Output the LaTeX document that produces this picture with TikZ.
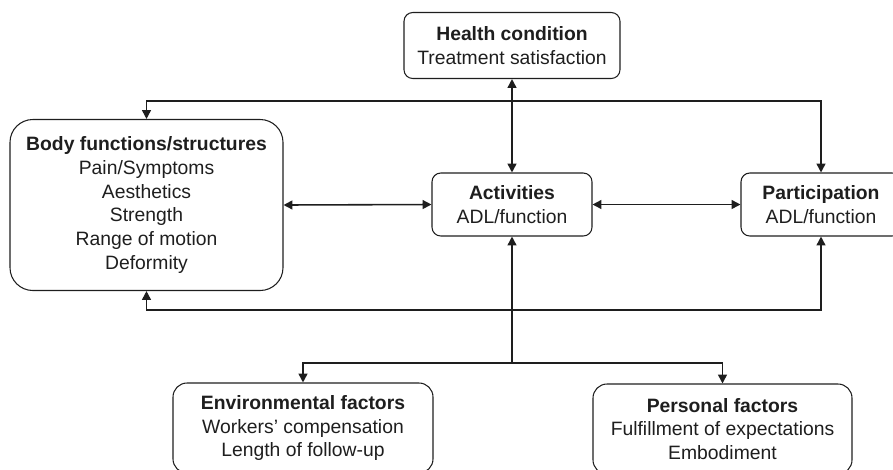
\documentclass[tikz,border=0pt]{standalone}
\usepackage{fontspec}
\setmainfont{Liberation Sans}
\usepackage{tikz}
\usetikzlibrary{positioning,arrows.meta,calc}
\definecolor{ink}{HTML}{1E1E1E}

\begin{document}
\begin{tikzpicture}[x=0.2mm,y=-0.2mm,every node/.style={font=\fontsize{11}{13.6}\selectfont,text=ink}]
    \tikzstyle{box}=[draw=ink,rounded corners=5pt,line width=0.6pt,align=center,inner sep=0pt];
    \tikzstyle{link}=[line width=0.9pt,draw=ink,-{Triangle[length=5pt,width=5pt]}];
    \tikzstyle{both}=[line width=0.9pt,draw=ink,{Triangle[length=5pt,width=5pt]}-{Triangle[length=5pt,width=5pt]}];
    \useasboundingbox (0,0) rectangle (893,469);

    \node[box,minimum width=4.32cm,minimum height=1.32cm] (hc) at (512,45.5)
        {\textbf{Health condition}\\Treatment satisfaction};
    \node[box,rounded corners=13pt,minimum width=5.46cm,minimum height=3.42cm] (bf) at (146.5,205)
        {\textbf{Body functions/structures}\\Pain/Symptoms\\Aesthetics\\Strength\\Range of motion\\Deformity};
    \node[box,minimum width=3.2cm,minimum height=1.26cm] (act) at (512,204.5)
        {\textbf{Activities}\\ADL/function};
    \node[box,minimum width=3.2cm,minimum height=1.26cm] (part) at (821,204.5)
        {\textbf{Participation}\\ADL/function};
    \node[box,rounded corners=8pt,minimum width=5.2cm,minimum height=1.8cm] (env) at (303,428)
        {\textbf{Environmental factors}\\Workers’ compensation\\Length of follow-up};
    \node[box,rounded corners=8pt,minimum width=5.18cm,minimum height=1.8cm] (pers) at (722.5,429)
        {\textbf{Personal factors}\\Fulfillment of expectations\\Embodiment};

    \coordinate (top) at (0,101);
    \coordinate (bot) at (0,310);
    \coordinate (split) at (512,363);

    \draw[both] (act.north) -- (hc.south);
    \draw[both] (bf.north) -- (bf.north |- top) -- (part.north |- top) -- (part.north);
    \draw[both] (bf.south) -- (bf.south |- bot) -- (part.south |- bot) -- (part.south);
    \draw[both] (bf.east) -- (act.west);
    \draw[both] (act.east) -- (part.west);

    \draw[link] (split) -- (act.south);
    \draw[link] (split) -| (env.north);
    \draw[link] (split) -| (pers.north);
\end{tikzpicture}
\end{document}
